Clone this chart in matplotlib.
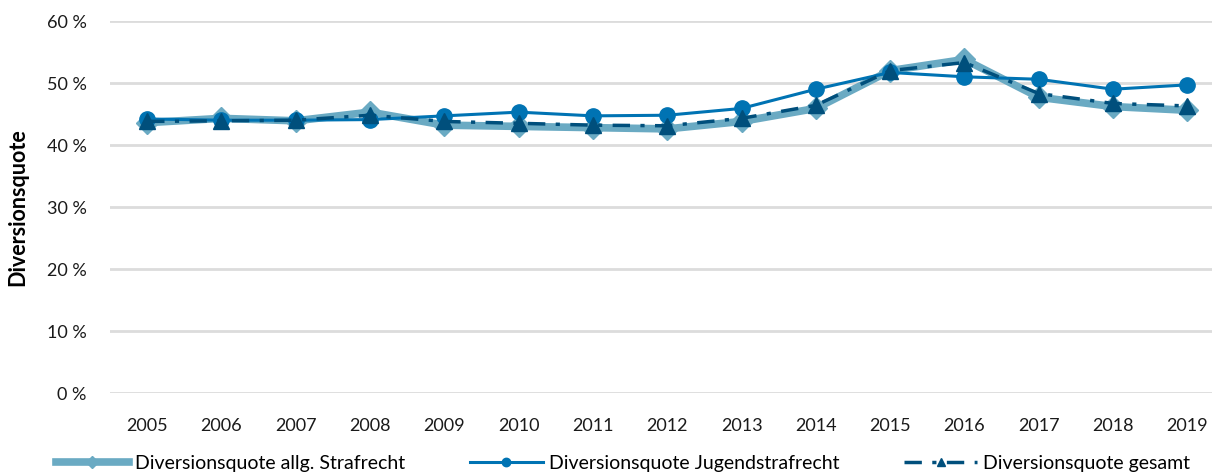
import matplotlib.pyplot as plt
from matplotlib.ticker import FuncFormatter

plt.rcParams['font.family'] = ['Lato', 'DejaVu Sans']

jahre = list(range(2005, 2020))
allg = [43.6, 44.3, 43.9, 45.3, 43.2, 43.0, 42.8, 42.6, 43.8, 45.9, 52.0, 53.8, 47.7, 46.2, 45.6]
jugend = [44.2, 44.0, 44.0, 44.1, 44.7, 45.3, 44.7, 44.8, 45.9, 49.0, 51.7, 51.0, 50.6, 49.0, 49.7]
gesamt = [43.8, 43.9, 44.0, 44.8, 43.8, 43.5, 43.2, 43.1, 44.3, 46.4, 52.0, 53.3, 48.3, 46.7, 46.3]

fig = plt.figure(figsize=(12.12, 4.75), dpi=100)
ax = fig.add_axes([110 / 1212, 82 / 475, 1102 / 1212, 372 / 475])

ax.plot(jahre, allg, color='#6aaac3', lw=5.5, marker='D', ms=11,
        label='Diversionsquote allg. Strafrecht', zorder=3, clip_on=False)
ax.plot(jahre, jugend, color='#0073b3', lw=2.2, marker='o', ms=11,
        label='Diversionsquote Jugendstrafrecht', zorder=4, clip_on=False)
ax.plot(jahre, gesamt, color='#004f7c', lw=2.5, marker='^', ms=11,
        dashes=[5, 3, 1.2, 3], label='Diversionsquote gesamt', zorder=5, clip_on=False)

ax.set_xlim(2004.5, 2004.5 + 1102 / 74.3)
ax.set_ylim(0, 60)
ax.set_yticks(range(0, 61, 10))
ax.set_xticks(jahre)
ax.yaxis.set_major_formatter(FuncFormatter(lambda v, p: f'{v:.0f} %'))
ax.grid(axis='y', color='#dcdcdc', lw=2)
ax.set_axisbelow(True)
for s in ax.spines.values():
    s.set_visible(False)
ax.tick_params(length=0, labelsize=13, colors='#1a1a1a')
ax.tick_params(axis='x', pad=18)
ax.tick_params(axis='y', pad=17)
ax.set_ylabel('Diversionsquote', fontsize=15.5, fontweight='bold')
ax.yaxis.set_label_coords(-0.074, 0.5)

fig.legend(loc='center', bbox_to_anchor=(0.514, 0.025), ncol=3, frameon=False,
           fontsize=14, handlelength=3.75, columnspacing=3.35, markerscale=0.55,
           handletextpad=0.3)

fig.savefig('out.png', dpi=100)
